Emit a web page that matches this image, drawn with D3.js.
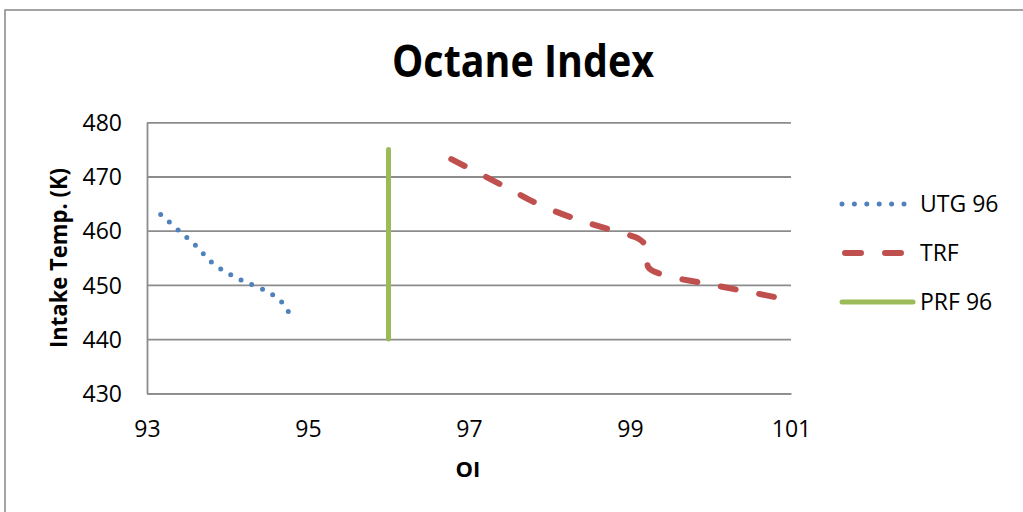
<!DOCTYPE html>
<html>
<head>
<meta charset="utf-8">
<script src="https://cdn.jsdelivr.net/npm/d3@7"></script>
<style>
  html, body { margin: 0; padding: 0; background: #fff; }
  svg { display: block; }
  text { font-family: "Open Sans", "Liberation Sans", sans-serif; fill: #000; }
</style>
</head>
<body>
<svg id="chart" width="1023" height="512"></svg>
<script>
// Octane index vs. intake temperature
const xTicks = [93, 95, 97, 99, 101];
const yTicks = [430, 440, 450, 460, 470, 480];

// UTG 96 curve
const utgOI   = [93.17, 93.39, 93.61, 93.80, 94.00, 94.20, 94.45, 94.60, 94.70, 94.78];
const utgTemp = [463.0, 460.1, 457.2, 454.2, 452.2, 450.7, 449.1, 447.8, 446.4, 444.4];

// TRF curve
const trfOI   = [96.78, 97.45, 97.89, 98.36, 98.84, 99.12, 99.21, 99.23, 99.43, 99.92, 100.41, 100.82];
const trfTemp = [473.2, 468.1, 464.7, 462.0, 459.8, 458.4, 456.8, 453.2, 451.8, 450.3, 448.9, 447.7];

// PRF 96 reference line
const prfOI   = [96, 96];
const prfTemp = [440, 475];

const seriesNames = ["UTG 96", "TRF", "PRF 96"];
const seriesColors = ["#4F81BD", "#C0504D", "#9BBB59"];

const svg = d3.select("#chart");

// outer chart border
svg.append("rect")
  .attr("x", 5).attr("y", 10)
  .attr("width", 1040).attr("height", 530)
  .attr("fill", "none").attr("stroke", "#878787").attr("stroke-width", 1.5);

const x = d3.scaleLinear().domain([93, 101]).range([147, 791]);
const y = d3.scaleLinear().domain([430, 480]).range([393.3, 122.3]);

const gridColor = "#8c8c8c";

// y axis with horizontal gridlines
const yAxis = svg.append("g")
  .attr("transform", `translate(${x(93)},0)`)
  .call(d3.axisLeft(y).tickValues(yTicks)
    .tickSizeInner(-(x(101) - x(93))).tickSizeOuter(0).tickPadding(25));
yAxis.selectAll("line").attr("stroke", gridColor).attr("stroke-width", 1.8);
yAxis.select(".domain").attr("stroke", gridColor).attr("stroke-width", 1.8);
yAxis.selectAll("text")
  .attr("font-size", 23).attr("dy", "0.36em")
  .style("font-family", "'Open Sans', sans-serif");

// x axis
const xAxis = svg.append("g")
  .attr("transform", `translate(0,${y(430)})`)
  .call(d3.axisBottom(x).tickValues(xTicks).tickSize(0).tickPadding(27.4));
xAxis.select(".domain").attr("stroke", gridColor).attr("stroke-width", 1.8);
xAxis.selectAll("text")
  .attr("font-size", 23)
  .style("font-family", "'Open Sans', sans-serif");

// title
svg.append("text")
  .attr("x", 523).attr("y", 77)
  .attr("text-anchor", "middle")
  .attr("font-size", 44).attr("font-weight", "bold")
  .attr("textLength", 262).attr("lengthAdjust", "spacingAndGlyphs")
  .text("Octane Index");

// axis titles
svg.append("text")
  .attr("transform", "translate(67,258) rotate(-90)")
  .attr("text-anchor", "middle")
  .attr("font-size", 23).attr("font-weight", "bold")
  .attr("textLength", 180).attr("lengthAdjust", "spacingAndGlyphs")
  .text("Intake Temp. (K)");

svg.append("text")
  .attr("x", 468).attr("y", 477)
  .attr("text-anchor", "middle")
  .attr("font-size", 22).attr("font-weight", "bold")
  .text("OI");

// series lines
const line = d3.line().x(d => x(d[0])).y(d => y(d[1]));
const smooth = d3.line().x(d => x(d[0])).y(d => y(d[1])).curve(d3.curveCatmullRom.alpha(0.5));

const styles = [
  { width: 5, dash: "0 11.6", cap: "round" },
  { width: 6, dash: "15 24", cap: "round" },
  { width: 5, dash: null, cap: "round" }
];

const seriesData = [
  d3.zip(utgOI, utgTemp),
  d3.zip(trfOI, trfTemp),
  d3.zip(prfOI, prfTemp)
];

seriesData.forEach((pts, i) => {
  svg.append("path")
    .datum(pts)
    .attr("d", i === 2 ? line : smooth)
    .attr("fill", "none")
    .attr("stroke", seriesColors[i])
    .attr("stroke-width", styles[i].width)
    .attr("stroke-linecap", styles[i].cap)
    .attr("stroke-linejoin", "round")
    .attr("stroke-dasharray", styles[i].dash);
});

// legend
const legendY = [204, 253, 302];
const legendLines = [[842, 904.1], [845, 901], [842, 913]];
const legendDash = ["0 12.4", "16 24", null];
seriesNames.forEach((name, i) => {
  const g = svg.append("g");
  g.append("line")
    .attr("x1", legendLines[i][0]).attr("x2", legendLines[i][1])
    .attr("y1", legendY[i]).attr("y2", legendY[i])
    .attr("stroke", seriesColors[i])
    .attr("stroke-width", styles[i].width)
    .attr("stroke-linecap", styles[i].cap)
    .attr("stroke-dasharray", legendDash[i]);
  g.append("text")
    .attr("x", 920).attr("y", legendY[i])
    .attr("dy", "0.36em")
    .attr("font-size", 23)
    .text(name);
});
</script>
</body>
</html>
